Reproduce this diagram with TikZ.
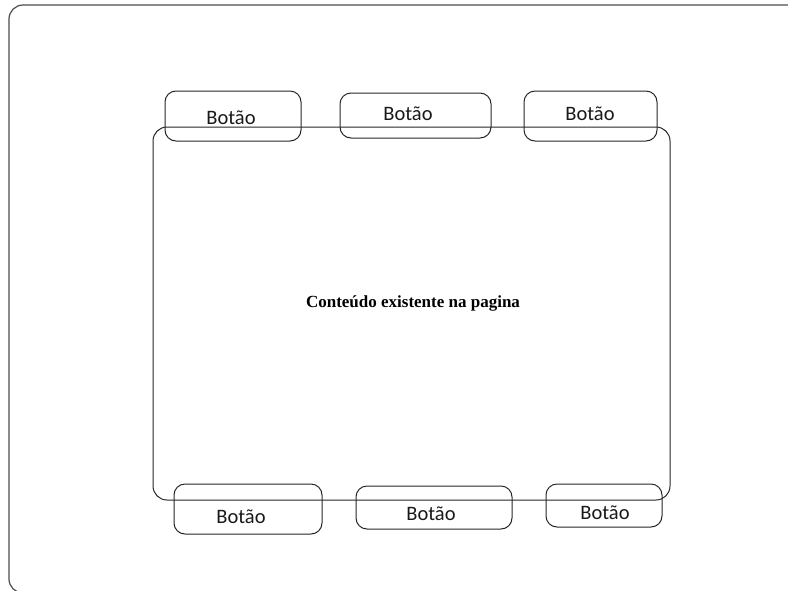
\documentclass[tikz,border=0pt]{standalone}
\usepackage{fontspec}
\setmainfont{Liberation Serif}
\newfontfamily\btnfont{Carlito}
\begin{document}
\begin{tikzpicture}[x=1pt,y=-1pt,
  frame/.style={draw=black!70,line width=1.2pt,rounded corners=14pt},
  panel/.style={draw=black!85,line width=1pt,rounded corners=14pt},
  btn/.style={draw=black!85,line width=1pt,rounded corners=11pt},
  btnlabel/.style={font=\btnfont\fontsize{20.5}{23}\selectfont,text=black!90,inner sep=0pt},
  mainlabel/.style={font=\bfseries\fontsize{17}{20}\selectfont,inner sep=0pt}]
\useasboundingbox (0,0) rectangle (788,590);
\begin{scope}
\clip (0,0) rectangle (788,590);
\draw[frame] (9,5) rectangle (810,593);
\end{scope}
% main panel
\draw[panel] (153,127) rectangle (670,500);
\node[mainlabel] (content) at (413,303) {Conteúdo existente na pagina};
% top buttons
\draw[btn] (165,91) rectangle (301,141);
\node[btnlabel] (b1) at (231,118) {Botão};
\draw[btn] (340,93) rectangle (491,138);
\node[btnlabel] (b2) at (408,114) {Botão};
\draw[btn] (524,91) rectangle (657,141);
\node[btnlabel] (b3) at (590,114) {Botão};
% bottom buttons
\draw[btn] (174,484) rectangle (322,534);
\node[btnlabel] (b4) at (241,517) {Botão};
\draw[btn] (356,486) rectangle (512,529);
\node[btnlabel] (b5) at (431,514) {Botão};
\draw[btn] (546,484) rectangle (662,527);
\node[btnlabel] (b6) at (605,513) {Botão};
\end{tikzpicture}
\end{document}
